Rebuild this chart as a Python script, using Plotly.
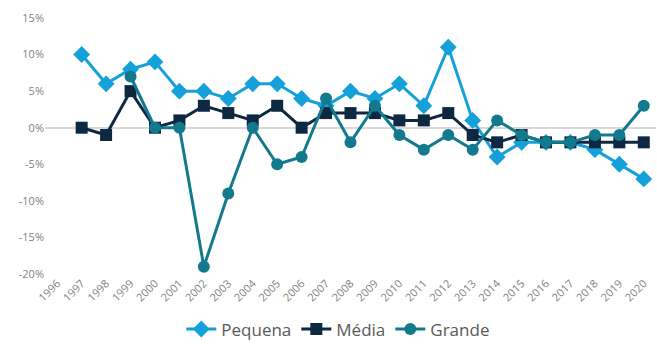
import plotly.graph_objects as go

years = [str(y) for y in range(1996, 2021)]

pequena = [None, 10, 6, 8, 9, 5, 5, 4, 6, 6, 4, 3, 5, 4, 6, 3, 11, 1, -4, -2, -2, -2, -3, -5, -7]
media = [None, 0, -1, 5, 0, 1, 3, 2, 1, 3, 0, 2, 2, 2, 1, 1, 2, -1, -2, -1, -2, -2, -2, -2, -2]
grande = [None, None, None, 7, 0, 0, -19, -9, 0, -5, -4, 4, -2, 3, -1, -3, -1, -3, 1, -1, -2, -2, -1, -1, 3]

y_ticks = [15, 10, 5, 0, -5, -10, -15, -20]
y_labels = [f"{v}%" for v in y_ticks]

series = [
    ("Pequena", pequena, "#14a0d9", "diamond", 13),
    ("Média", media, "#0e2841", "square", 12),
    ("Grande", grande, "#137a8e", "circle", 12),
]

fig = go.Figure()
for name, vals, color, symbol, size in series:
    fig.add_trace(go.Scatter(
        x=years, y=vals, name=name, mode="lines+markers",
        line=dict(color=color, width=3),
        marker=dict(symbol=symbol, size=size, color=color),
        connectgaps=False,
    ))

text_font = "Open Sans"

fig.update_layout(
    width=657, height=345,
    margin=dict(l=45, r=1, t=18, b=71, autoexpand=False),
    paper_bgcolor="white", plot_bgcolor="white",
    font=dict(family=text_font, color="#595959"),
    showlegend=True,
    legend=dict(
        orientation="h", x=0.48, xanchor="center",
        yref="container", y=0.045, yanchor="middle",
        font=dict(size=17, color="#595959", family=text_font),
        itemwidth=30,
    ),
    xaxis=dict(
        type="category", range=[-0.5, 24.5], tickangle=-45,
        showgrid=False, showline=False, ticks="", automargin=False,
        tickfont=dict(size=11, color="#7f7f7f", family=text_font),
    ),
    yaxis=dict(
        range=[-20, 15], tickvals=y_ticks, ticktext=y_labels,
        showgrid=False, zeroline=True, zerolinecolor="#d9d9d9", zerolinewidth=1.5,
        showline=False, ticks="", automargin=False,
        tickfont=dict(size=11, color="#7f7f7f", family=text_font),
    ),
)

fig.write_html("out.html")
